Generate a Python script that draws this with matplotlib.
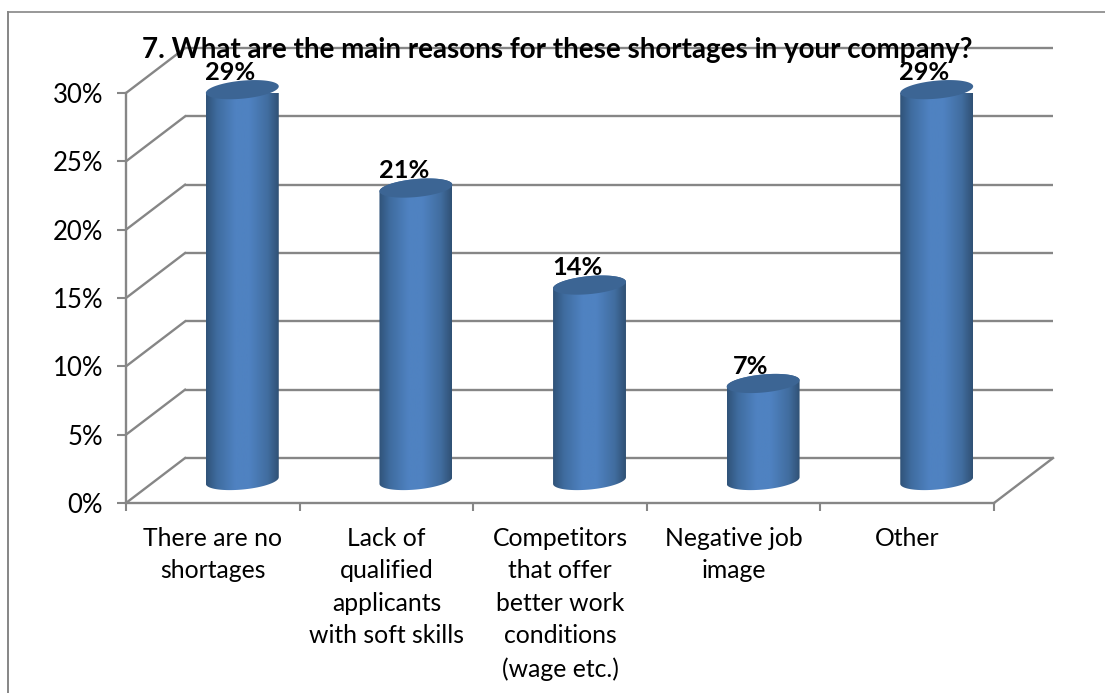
import numpy as np
import matplotlib
matplotlib.use('Agg')
import matplotlib.pyplot as plt
from matplotlib.colors import LinearSegmentedColormap
from matplotlib.path import Path
from matplotlib.patches import PathPatch

categories = ['There are no\nshortages',
              'Lack of\nqualified\napplicants\nwith soft skills',
              'Competitors\nthat offer\nbetter work\nconditions\n(wage etc.)',
              'Negative job\nimage',
              'Other']
values = [28.6, 21.4, 14.3, 7.1, 28.6]
bar_labels = ['29%', '21%', '14%', '7%', '29%']
y_ticks = [0, 5, 10, 15, 20, 25, 30]
y_labels = ['0%', '5%', '10%', '15%', '20%', '25%', '30%']
title = '7. What are the main reasons for these shortages in your company?'

plt.rcParams['font.family'] = ['Lato', 'DejaVu Sans']

W, H = 1105, 693
grey = '#868686'
depth_x = 0.34   # depth of the floor, in category widths
depth_y = 3.29   # depth of the floor, in percent
half_w = 0.21    # cylinder radius along x
rim_b = 0.66     # cylinder top ellipse, half height
rim_s = 0.24     # tilt of the ellipse

fig = plt.figure(figsize=(W / 100, H / 100), dpi=100, facecolor='white')

# frame of the pasted chart, only top and left are visible
frame = fig.add_axes([8 / W, 0, 1 - 8 / W, 1 - 11.5 / H])
frame.set_xticks([])
frame.set_yticks([])
frame.spines['right'].set_visible(False)
frame.spines['bottom'].set_visible(False)
frame.spines['top'].set_color(grey)
frame.spines['left'].set_color(grey)
frame.spines['top'].set_linewidth(1.2)
frame.spines['left'].set_linewidth(1.4)

ax = fig.add_axes([126 / W, 1 - 503 / H, 868 / W, 410 / H])
ax.patch.set_alpha(0)
ax.spines['top'].set_visible(False)
ax.spines['right'].set_visible(False)
for s in ['left', 'bottom']:
    ax.spines[s].set_color(grey)
    ax.spines[s].set_linewidth(1.7)

# back wall and side wall lines
for v in y_ticks:
    ax.plot([depth_x, len(values) + depth_x], [v + depth_y, v + depth_y],
            color=grey, lw=1.7, clip_on=False, zorder=1, solid_capstyle='butt')
    ax.plot([0, depth_x], [v, v + depth_y], color=grey, lw=1.7, clip_on=False, zorder=1)
ax.plot([len(values), len(values) + depth_x], [0, depth_y], color=grey, lw=1.7,
        clip_on=False, zorder=1)

# cylinders
body_cmap = LinearSegmentedColormap.from_list(
    'cyl', [(0, '#305379'), (0.15, '#3f6c9f'), (0.4, '#4f82c1'), (0.6, '#4f82c1'),
            (0.85, '#416d9f'), (1, '#305175')])
t = np.linspace(0, 2 * np.pi, 121)
for i, val in enumerate(values):
    cx = i + 0.5 + depth_x / 2
    base = depth_y / 2
    top = base + val
    # front half of the bottom rim, then back up along the top rim
    tb = np.linspace(np.pi, 2 * np.pi, 60)
    xb = cx + half_w * np.cos(tb)
    yb = base + rim_b * np.sin(tb) + rim_s * np.cos(tb)
    tt = np.linspace(0, np.pi, 60)
    xt = cx + half_w * np.cos(tt)
    yt = top + rim_b * np.sin(tt) + rim_s * np.cos(tt)
    verts = np.column_stack([np.r_[xb, xt], np.r_[yb, yt]])
    patch = PathPatch(Path(np.vstack([verts, verts[0]])), transform=ax.transData,
                      fc='none', ec='none', clip_on=False)
    ax.add_patch(patch)
    im = ax.imshow(np.linspace(0, 1, 128).reshape(1, -1), cmap=body_cmap, aspect='auto',
                   extent=[cx - half_w, cx + half_w, base - 2, top + 2], zorder=3)
    im.set_clip_path(patch)
    ax.fill(cx + half_w * np.cos(t), top + rim_b * np.sin(t) + rim_s * np.cos(t),
            color='#3c6594', lw=0, zorder=4, clip_on=False)
    ax.text(cx - 0.07, top + 0.72, bar_labels[i], ha='center', va='baseline',
            fontsize=18.3, fontweight='bold', color='black', zorder=6, clip_on=False)

ax.set_xlim(0, len(values))
ax.set_ylim(0, 30)
ax.set_yticks(y_ticks, y_labels)
ax.set_xticks(np.arange(len(values) + 1), [''] * (len(values) + 1))
ax.set_xticks(np.arange(len(values)) + 0.5, categories, minor=True)
ax.tick_params(axis='y', length=6.5, width=1.5, color=grey, pad=10, labelsize=18.5)
ax.tick_params(axis='x', which='major', length=5.5, width=1.5, color=grey)
ax.tick_params(axis='x', which='minor', length=0, pad=17, labelsize=17.8)
for lab in ax.get_xticklabels(minor=True):
    lab.set_linespacing(1.5)

fig.text(557 / W, 1 - 58 / H, title, ha='center', va='baseline', fontsize=20,
         fontweight='bold', color='black', zorder=10)

fig.savefig('out.png', dpi=100)
